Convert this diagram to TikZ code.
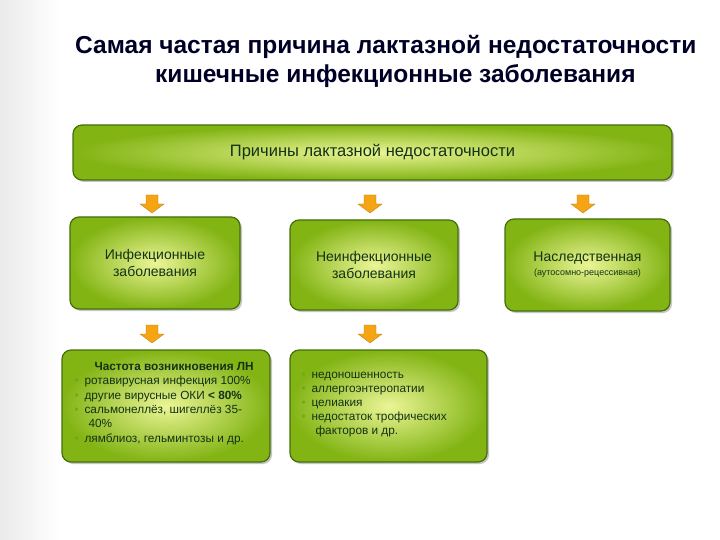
\documentclass[tikz,border=0pt]{standalone}
\usepackage{fontspec}
\setmainfont{Liberation Sans}
\usetikzlibrary{shadows,calc}
\definecolor{gout}{RGB}{130,180,20}
\definecolor{gin}{RGB}{235,245,150}
\definecolor{gbord}{RGB}{70,110,10}
\definecolor{txt}{RGB}{20,50,20}
\definecolor{arr}{RGB}{245,165,20}
\definecolor{bul}{RGB}{110,170,30}
\tikzset{
 gbox/.style={draw=gbord, line width=1.2pt, rounded corners=9pt, inner color=gin, outer color=gout,
   drop shadow={shadow xshift=2pt, shadow yshift=-2pt, fill=black!45}, text=txt},
 darr/.style={fill=arr, draw=arr!75!black, line width=0.3pt}
}
\newcommand{\downarr}[1]{\path[darr] ($(#1)+(-6,-9)$) -- ($(#1)+(6,-9)$) -- ($(#1)+(6,0)$) -- ($(#1)+(12,0)$) -- ($(#1)+(0,9)$) -- ($(#1)+(-12,0)$) -- ($(#1)+(-6,0)$) -- cycle;}
\begin{document}
\begin{tikzpicture}[x=1pt,y=-1pt]
\useasboundingbox (0,0) rectangle (720,540);
\shade[left color=black!8, right color=white] (0,0) rectangle (60,540);
\node[anchor=west, inner sep=0pt, font=\bfseries\fontsize{24.5}{28}\selectfont, text=black!85!blue] (t1) at (75,47) {Самая частая причина лактазной недостаточности};
\node[anchor=west, inner sep=0pt, font=\bfseries\fontsize{24.5}{28}\selectfont, text=black!85!blue] (t2) at (155,76) {кишечные инфекционные заболевания};

\node[gbox, minimum width=599pt, minimum height=55pt, font=\fontsize{16.5}{19}\selectfont] (top) at (372.5,152.5) {Причины лактазной недостаточности};

\coordinate (a1) at (152,204); \downarr{a1}
\coordinate (a2) at (370,204); \downarr{a2}
\coordinate (a3) at (583,204); \downarr{a3}

\node[gbox, minimum width=170pt, minimum height=92pt, font=\fontsize{14}{17}\selectfont, align=center] (b1) at (155,263) {Инфекционные\\заболевания};
\node[gbox, minimum width=168pt, minimum height=90pt, font=\fontsize{14}{17}\selectfont, align=center] (b2) at (374,265) {Неинфекционные\\заболевания};
\node[gbox, minimum width=165pt, minimum height=92pt, align=center] (b3) at (587.5,265) {{\fontsize{14}{16}\selectfont Наследственная}\\[2pt]{\fontsize{9}{10}\selectfont(аутосомно-рецессивная)}};

\coordinate (a4) at (152,334); \downarr{a4}
\coordinate (a5) at (370,334); \downarr{a5}

\node[gbox, minimum width=208pt, minimum height=112pt] (b4) at (166,406) {};
\node[gbox, minimum width=197pt, minimum height=112pt] (b5) at (388.5,406) {};

\node[anchor=north west, text=txt, font=\fontsize{11.8}{14.3}\selectfont, align=left] (l4) at (71,359) {%
\hspace*{20pt}\textbf{Частота возникновения ЛН}\\
\textcolor{bul}{•}\enspace ротавирусная инфекция 100\%\\
\textcolor{bul}{•}\enspace другие вирусные ОКИ \textbf{< 80\%}\\
\textcolor{bul}{•}\enspace сальмонеллёз, шигеллёз 35-\\
\hspace*{14pt}40\%\\
\textcolor{bul}{•}\enspace лямблиоз, гельминтозы и др.};
\node[anchor=north west, text=txt, font=\fontsize{11.8}{14}\selectfont, align=left] (l5) at (298,369) {%
\textcolor{bul}{•}\enspace недоношенность\\
\textcolor{bul}{•}\enspace аллергоэнтеропатии\\
\textcolor{bul}{•}\enspace целиакия\\
\textcolor{bul}{•}\enspace недостаток трофических\\
\hspace*{14pt}факторов и др.};
\end{tikzpicture}
\end{document}
